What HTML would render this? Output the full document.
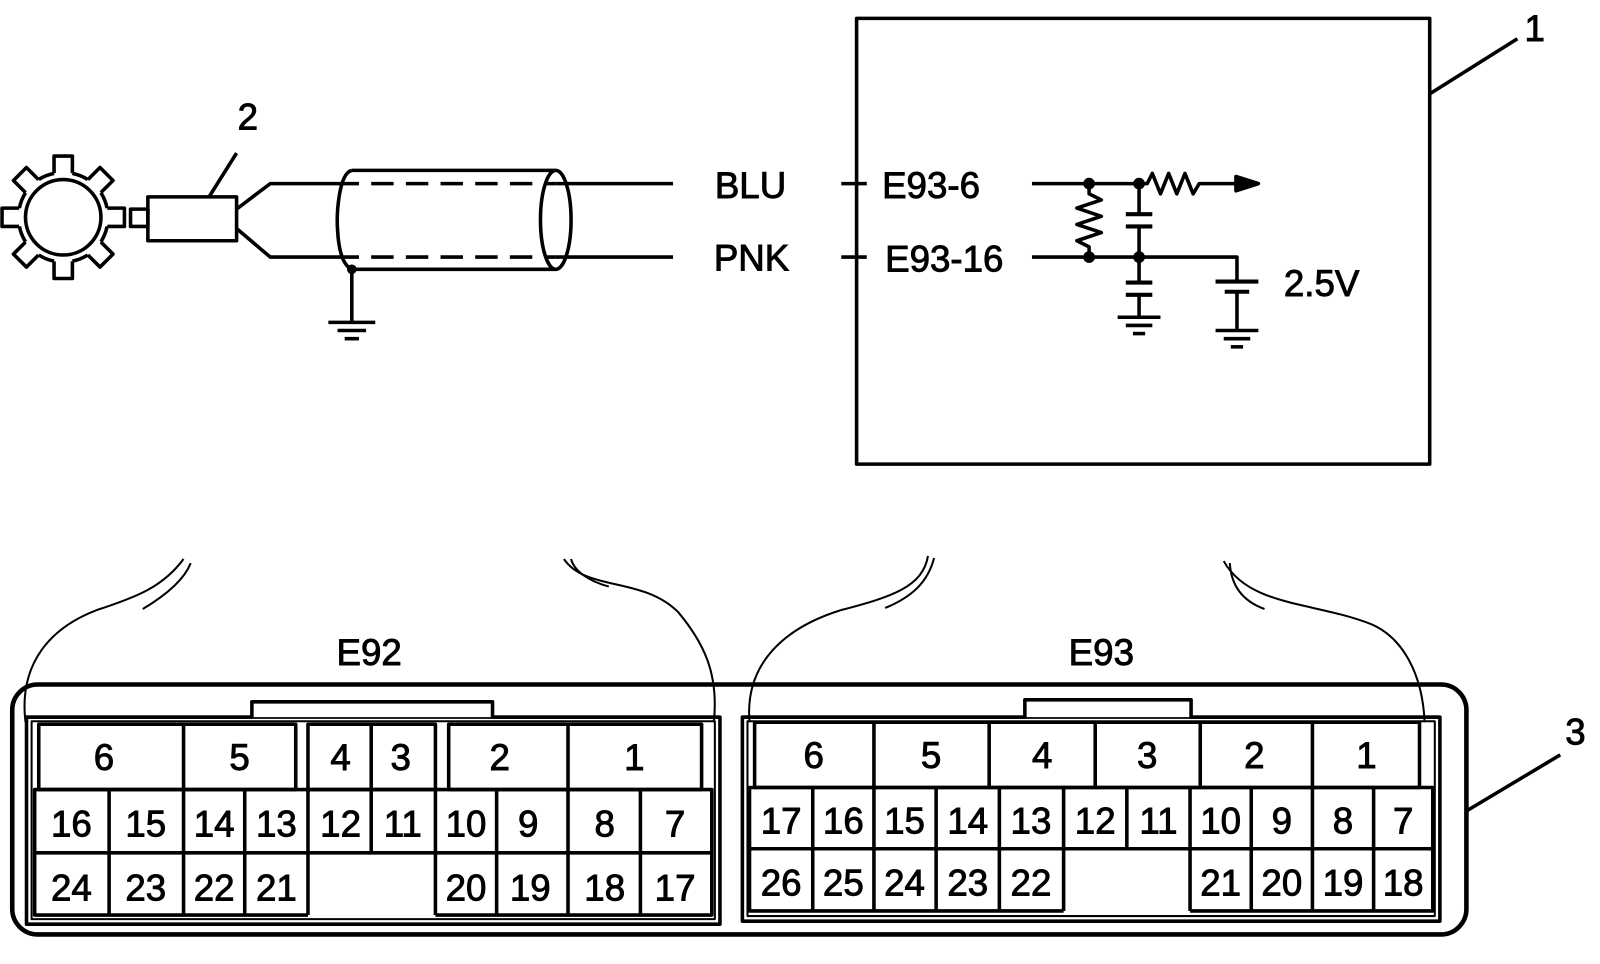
<!DOCTYPE html>
<html><head><meta charset="utf-8"><style>
html,body{margin:0;padding:0;background:#fff;}
svg{display:block}
text{font-family:"Liberation Sans",sans-serif;fill:#000;stroke:#000;stroke-width:0.9;}
</style></head><body>
<svg width="1600" height="964" viewBox="0 0 1569 945" preserveAspectRatio="none" xmlns="http://www.w3.org/2000/svg">
<g fill="none" stroke="#000" stroke-width="3.5" stroke-linejoin="round">
<!-- gear -->
<g transform="translate(62,213)" fill="#fff">
<rect x="-9" y="-60" width="18" height="22" transform="rotate(0)"/>
<rect x="-9" y="-60" width="18" height="22" transform="rotate(45)"/>
<rect x="-9" y="-60" width="18" height="22" transform="rotate(90)"/>
<rect x="-9" y="-60" width="18" height="22" transform="rotate(135)"/>
<rect x="-9" y="-60" width="18" height="22" transform="rotate(180)"/>
<rect x="-9" y="-60" width="18" height="22" transform="rotate(225)"/>
<rect x="-9" y="-60" width="18" height="22" transform="rotate(270)"/>
<rect x="-9" y="-60" width="18" height="22" transform="rotate(315)"/>
<circle r="44" stroke="none"/>
<circle r="37"/>
</g>
<g transform="translate(62,213)">
<path d="M9,-43 A44,44 0 0 1 24,-37 M37,-24 A44,44 0 0 1 43,-9 M43,9 A44,44 0 0 1 37,24 M24,37 A44,44 0 0 1 9,43 M-9,43 A44,44 0 0 1 -24,37 M-37,24 A44,44 0 0 1 -43,9 M-43,-9 A44,44 0 0 1 -37,-24 M-24,-37 A44,44 0 0 1 -9,-43"/>
</g>
<!-- sensor -->
<rect x="128" y="205" width="17" height="17"/>
<rect x="145" y="193" width="87" height="43"/>
<line x1="205" y1="193" x2="232" y2="150"/>
<polyline points="232,205 265,180 330,180"/>
<polyline points="232,224 265,252 330,252"/>
<line x1="330" y1="180" x2="545" y2="180" stroke-dasharray="22,12"/>
<line x1="330" y1="252" x2="545" y2="252" stroke-dasharray="22,12"/>
<line x1="545" y1="180" x2="660" y2="180"/>
<line x1="545" y1="252" x2="660" y2="252"/>
<line x1="345" y1="167" x2="545" y2="167"/>
<line x1="345" y1="264" x2="545" y2="264"/>
<path d="M345,167 C332,170 330,210 331,225 C332,245 336,260 345,264"/>
<ellipse cx="545" cy="215.5" rx="15" ry="48.5"/>
<circle cx="345" cy="264" r="3" fill="#000"/>
<line x1="345" y1="264" x2="345" y2="316"/>
<line x1="322" y1="316" x2="368" y2="316"/>
<line x1="331" y1="324" x2="359" y2="324"/>
<line x1="338" y1="332" x2="352" y2="332"/>
<!-- module box -->
<rect x="840" y="18" width="562" height="437"/>
<line x1="1402" y1="92" x2="1488" y2="38"/>
<line x1="825" y1="180" x2="850" y2="180"/>
<line x1="825" y1="252" x2="850" y2="252"/>
<!-- circuit -->
<polyline points="1012,180 1125,180 1130,170 1138,190 1146,170 1154,190 1162,170 1170,190 1176,180 1212,180"/>
<polygon points="1212,173 1234,180 1212,187" fill="#000"/>
<polyline points="1012,252 1213,252 1213,276"/>
<polyline points="1068,180 1068,190 1080,196 1056,204 1080,212 1056,220 1080,228 1056,236 1068,242 1068,252"/>
<circle cx="1068" cy="180" r="4" fill="#000"/><circle cx="1117" cy="180" r="4" fill="#000"/>
<circle cx="1068" cy="252" r="4" fill="#000"/><circle cx="1117" cy="252" r="4" fill="#000"/>
<line x1="1117" y1="180" x2="1117" y2="210"/><line x1="1117" y1="222" x2="1117" y2="252"/>
<line x1="1104" y1="210" x2="1130" y2="210" stroke-width="4"/><line x1="1104" y1="222" x2="1130" y2="222" stroke-width="4"/>
<line x1="1117" y1="252" x2="1117" y2="277"/><line x1="1117" y1="289" x2="1117" y2="311"/>
<line x1="1104" y1="277" x2="1130" y2="277" stroke-width="4"/><line x1="1104" y1="289" x2="1130" y2="289" stroke-width="4"/>
<line x1="1096" y1="311" x2="1138" y2="311"/><line x1="1104" y1="319" x2="1130" y2="319"/><line x1="1111" y1="327" x2="1123" y2="327"/>
<line x1="1192" y1="276" x2="1234" y2="276" stroke-width="4"/><line x1="1201" y1="286" x2="1225" y2="286" stroke-width="4"/>
<line x1="1213" y1="286" x2="1213" y2="324"/>
<line x1="1192" y1="324" x2="1234" y2="324"/><line x1="1200" y1="332" x2="1226" y2="332"/><line x1="1207" y1="340" x2="1219" y2="340"/>
<!-- harness curves -->
<path d="M25,708 C18,650 50,615 95,598 C135,585 160,575 180,548" stroke-width="2"/>
<path d="M140,597 C160,585 180,570 187,552" stroke-width="2"/>
<path d="M700,708 C705,660 690,630 665,600 C630,565 575,580 553,548" stroke-width="2"/>
<path d="M597,575 C578,570 563,560 560,548" stroke-width="2"/>
<path d="M735,708 C730,650 770,615 825,598 C875,585 905,575 910,545" stroke-width="2"/>
<path d="M868,596 C895,585 910,570 916,547" stroke-width="2"/>
<path d="M1397,708 C1395,660 1375,625 1345,612 C1290,590 1225,595 1200,550" stroke-width="2"/>
<path d="M1240,597 C1215,588 1207,570 1206,552" stroke-width="2"/>
<!-- ECU outer -->
<rect x="12" y="671" width="1426" height="245" rx="25" stroke-width="4.5"/>
<line x1="1438" y1="795" x2="1530" y2="740"/>
<!-- E92 housing -->
<rect x="26" y="703" width="680" height="203"/>
<polyline points="26,703 247,703 247,688 483,688 483,703 706,703" fill="#fff"/>
<rect x="31" y="707" width="670" height="194" stroke-width="2"/>
<rect x="38" y="710" width="252" height="64"/><line x1="180" y1="710" x2="180" y2="774"/>
<rect x="302" y="710" width="125" height="64"/><line x1="364" y1="710" x2="364" y2="774"/>
<rect x="440" y="710" width="248" height="64"/><line x1="557" y1="710" x2="557" y2="774"/>
<rect x="34" y="774" width="664" height="62"/>
<path d="M107,774V897 M180,774V897 M240,774V897 M302,774V897 M364,774V836 M427,774V897 M487,774V897 M557,774V897 M628,774V897"/>
<path d="M34,836V897H302 M427,897H698V836"/>
<!-- E93 housing -->
<rect x="728" y="703" width="684" height="200"/>
<polyline points="728,703 1005,703 1005,686 1168,686 1168,703 1412,703" fill="#fff"/>
<rect x="733" y="707" width="674" height="191" stroke-width="2"/>
<rect x="740" y="708" width="652" height="64"/>
<path d="M857,708V772 M970,708V772 M1074,708V772 M1177,708V772 M1287,708V772"/>
<rect x="735" y="772" width="670" height="60"/>
<path d="M797,772V893 M857,772V893 M918,772V893 M980,772V893 M1043,772V893 M1105,772V832 M1167,772V893 M1227,772V893 M1287,772V893 M1347,772V893"/>
<path d="M735,832V893H1043 M1167,893H1405V832"/>
</g>
<g font-size="36" text-anchor="middle">
<text x="243" y="127">2</text>
<text x="1505" y="40">1</text>
<text x="1545" y="730">3</text>
<text x="736" y="194">BLU</text>
<text x="737" y="265">PNK</text>
<text x="913" y="194">E93-6</text>
<text x="926" y="266">E93-16</text>
<text x="1296" y="290">2.5V</text>
<text x="362" y="652">E92</text>
<text x="1080" y="652">E93</text>
</g>
<g font-size="36" text-anchor="middle">
<text x="102" y="755">6</text><text x="235" y="755">5</text><text x="334" y="755">4</text><text x="393" y="755">3</text><text x="490" y="755">2</text><text x="622" y="755">1</text>
<text x="70" y="820">16</text><text x="143" y="820">15</text><text x="210" y="820">14</text><text x="271" y="820">13</text><text x="334" y="820">12</text><text x="395" y="820">11</text><text x="457" y="820">10</text><text x="518" y="820">9</text><text x="593" y="820">8</text><text x="662" y="820">7</text>
<text x="70" y="883">24</text><text x="143" y="883">23</text><text x="210" y="883">22</text><text x="271" y="883">21</text><text x="457" y="883">20</text><text x="520" y="883">19</text><text x="593" y="883">18</text><text x="662" y="883">17</text>
<text x="798" y="753">6</text><text x="913" y="753">5</text><text x="1022" y="753">4</text><text x="1125" y="753">3</text><text x="1230" y="753">2</text><text x="1340" y="753">1</text>
<text x="766" y="817">17</text><text x="827" y="817">16</text><text x="887" y="817">15</text><text x="949" y="817">14</text><text x="1011" y="817">13</text><text x="1074" y="817">12</text><text x="1136" y="817">11</text><text x="1197" y="817">10</text><text x="1257" y="817">9</text><text x="1317" y="817">8</text><text x="1376" y="817">7</text>
<text x="766" y="878">26</text><text x="827" y="878">25</text><text x="887" y="878">24</text><text x="949" y="878">23</text><text x="1011" y="878">22</text><text x="1197" y="878">21</text><text x="1257" y="878">20</text><text x="1317" y="878">19</text><text x="1376" y="878">18</text>
</g>
</svg>
</body></html>
